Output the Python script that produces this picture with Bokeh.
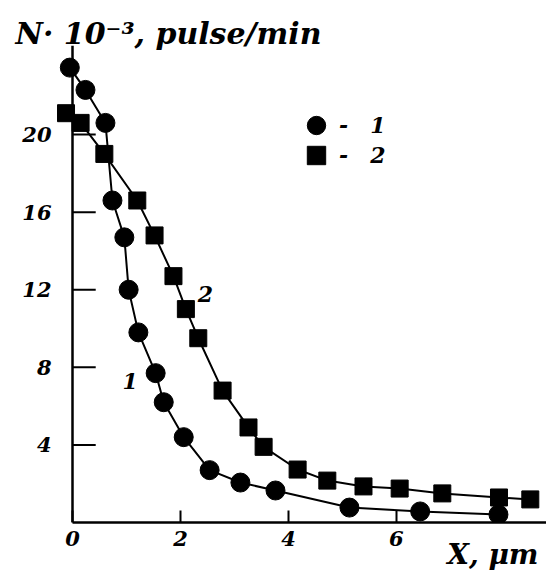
from bokeh.plotting import figure
from bokeh.models import Range1d, FixedTicker, Span, Label, Legend, LegendItem, Title
from bokeh.embed import file_html
from bokeh.resources import INLINE

# Curve 1 (circles)
x1 = [-0.05, 0.24, 0.61, 0.74, 0.96, 1.04, 1.22, 1.54, 1.69, 2.06, 2.54, 3.11, 3.76, 5.13, 6.44, 7.89]
y1 = [23.45, 22.3, 20.6, 16.6, 14.7, 12.0, 9.8, 7.7, 6.2, 4.4, 2.7, 2.06, 1.65, 0.77, 0.57, 0.41]
# Curve 2 (squares)
x2 = [-0.12, 0.15, 0.59, 1.2, 1.52, 1.87, 2.1, 2.33, 2.78, 3.26, 3.54, 4.17, 4.72, 5.39, 6.06, 6.85, 7.9, 8.48]
y2 = [21.1, 20.6, 19.0, 16.6, 14.8, 12.7, 11.0, 9.5, 6.8, 4.9, 3.9, 2.73, 2.16, 1.86, 1.75, 1.5, 1.29, 1.19]

x_ticks = [0, 2, 4, 6]
y_ticks = [4, 8, 12, 16, 20]
series_names = ["-\u20031", "-\u20032"]
curve_labels = ["1", "2"]
y_title = "N\u00b7 10\u207b\u00b3, pulse/min"
x_title = "X, \u03bcm"

X_START, X_END = -0.352, 8.78
Y_START, Y_END = 0, 24.59
FONT = "DejaVu Serif"

p = figure(width=546, height=575, output_backend="svg", toolbar_location=None,
           x_range=Range1d(X_START, X_END), y_range=Range1d(Y_START, Y_END),
           min_border_left=53, min_border_right=0, min_border_top=45, min_border_bottom=53)
p.outline_line_color = None
p.grid.visible = False
p.background_fill_color = "white"

# title (y quantity)
p.title.text = y_title
p.title.align = "left"
p.title.offset = -38
p.title.standoff = -10
p.title.text_font = FONT
p.title.text_font_style = "bold italic"
p.title.text_font_size = "30px"
p.title.text_color = "black"

# x quantity title under the axis
p.add_layout(Title(text=x_title, align="right", offset=8, standoff=-22, vertical_align="top",
                   text_font=FONT, text_font_style="bold italic", text_font_size="28px",
                   text_color="black"), "below")

# x axis
xa = p.xaxis[0]
xa.ticker = FixedTicker(ticks=x_ticks)
xa.bounds = (0, X_END)
xa.axis_line_width = 2.5
xa.axis_line_color = "black"
xa.major_tick_in = 12
xa.major_tick_out = 0
xa.major_tick_line_width = 2
xa.minor_tick_line_color = None
xa.major_label_standoff = 8
xa.major_label_text_font = FONT
xa.major_label_text_font_style = "bold italic"
xa.major_label_text_font_size = "21px"
xa.major_label_text_color = "black"

# y axis (labels only; line drawn at x=0)
ya = p.yaxis[0]
ya.ticker = FixedTicker(ticks=y_ticks)
ya.axis_line_color = None
ya.major_tick_line_color = None
ya.minor_tick_line_color = None
ya.major_tick_in = 0
ya.major_tick_out = 0
ya.major_label_standoff = 2
ya.major_label_text_font = FONT
ya.major_label_text_font_style = "bold italic"
ya.major_label_text_font_size = "21px"
ya.major_label_text_color = "black"

p.add_layout(Span(location=0, dimension="height", line_color="black", line_width=2.5))
p.segment(x0=[0] * len(y_ticks), x1=[0.43] * len(y_ticks), y0=y_ticks, y1=y_ticks,
          line_color="black", line_width=2)

l1 = p.line(x1, y1, line_color="black", line_width=2)
s1 = p.scatter(x1, y1, marker="circle", size=19, fill_color="black", line_color="black")
l2 = p.line(x2, y2, line_color="black", line_width=2)
s2 = p.scatter(x2, y2, marker="square", size=17, fill_color="black", line_color="black")

common = dict(orientation="vertical", glyph_width=46, glyph_height=46, label_height=24,
              label_standoff=0, padding=0, margin=0, spacing=0,
              border_line_color=None, background_fill_alpha=0,
              label_text_font=FONT, label_text_font_style="bold italic",
              label_text_font_size="22px", label_text_color="black")
p.add_layout(Legend(items=[LegendItem(label=series_names[0], renderers=[s1])],
                    location=(240, 374), **common))
p.add_layout(Legend(items=[LegendItem(label=series_names[1], renderers=[s2])],
                    location=(240, 344), **common))

# curve labels
p.add_layout(Label(x=1.07, y=7.3, text=curve_labels[0], text_align="center", text_baseline="middle",
                   text_font=FONT, text_font_style="bold italic", text_font_size="22px",
                   text_color="black"))
p.add_layout(Label(x=2.46, y=11.8, text=curve_labels[1], text_align="center", text_baseline="middle",
                   text_font=FONT, text_font_style="bold italic", text_font_size="22px",
                   text_color="black"))

open("out.html", "w").write(file_html(p, INLINE))
